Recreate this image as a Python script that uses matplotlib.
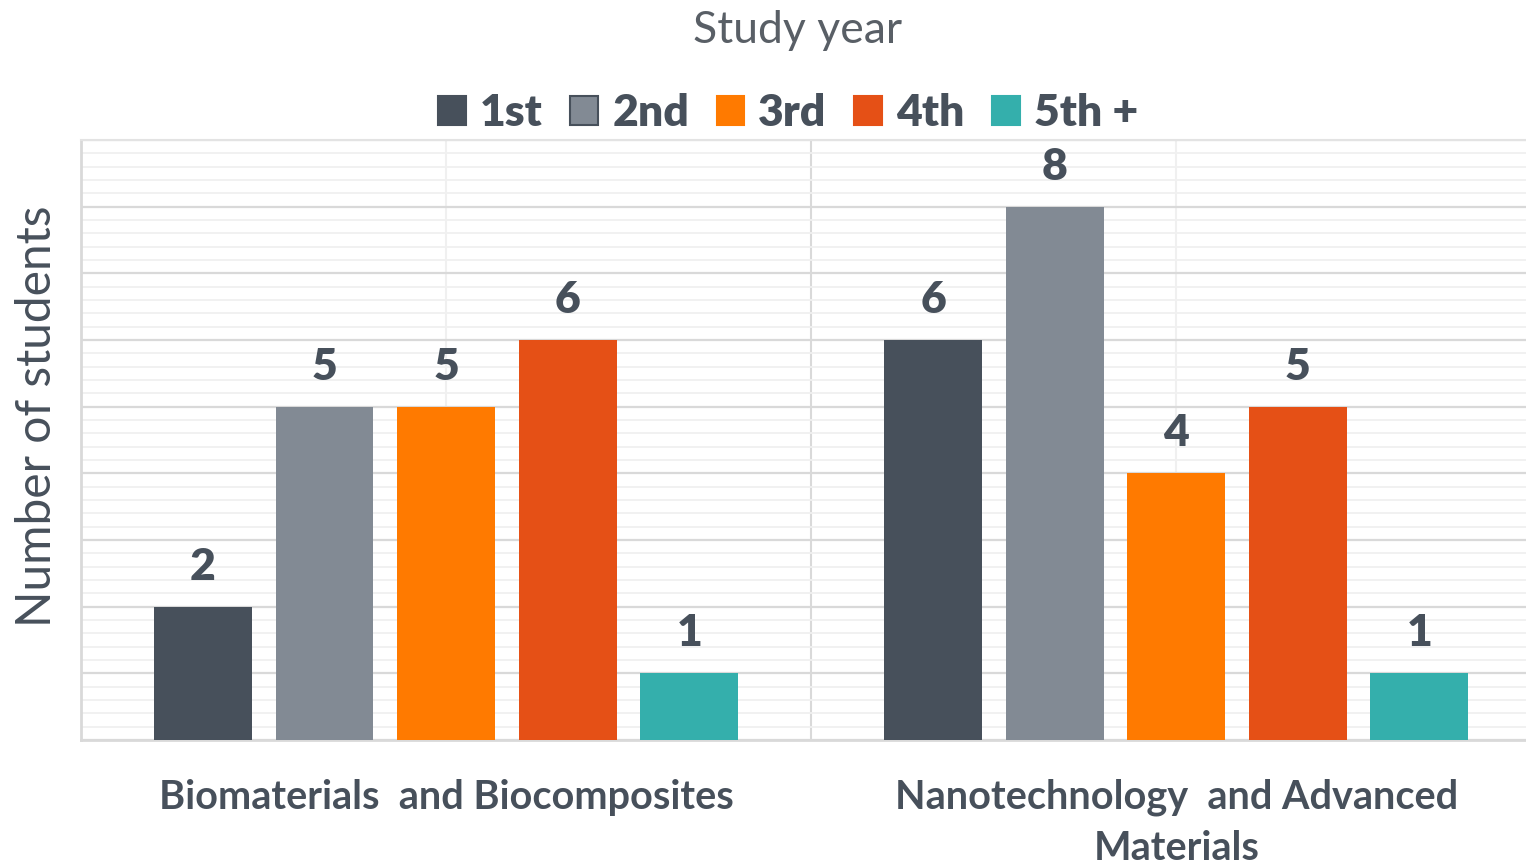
import matplotlib.pyplot as plt
import numpy as np
from matplotlib.patches import Patch
from matplotlib.ticker import MultipleLocator

programs = ['Biomaterials  and Biocomposites', 'Nanotechnology  and Advanced\nMaterials']
years = ['1st', '2nd', '3rd', '4th', '5th +']
counts = {
    '1st': [2, 6],
    '2nd': [5, 8],
    '3rd': [5, 4],
    '4th': [6, 5],
    '5th +': [1, 1],
}
colors = ['#47505b', '#828a94', '#ff7a00', '#e55016', '#34afac']

TEXT = '#47505b'
plt.rcParams['font.family'] = ['Lato', 'DejaVu Sans']

fig = plt.figure(figsize=(15.26, 8.64), dpi=100)
ax = fig.add_axes([0.0531, 0.1435, 0.9469, 0.6944])

x = np.arange(len(programs))
step = 0.1665
width = 0.134
for i, yr in enumerate(years):
    pos = x + (i - 2) * step
    bars = ax.bar(pos, counts[yr], width, color=colors[i], zorder=3)
    for b, v in zip(bars, counts[yr]):
        ax.text(b.get_x() + b.get_width() / 2, v + 0.3, str(v), ha='center', va='bottom',
                fontsize=32, fontweight='heavy', color=TEXT, zorder=4)

ax.set_ylim(0, 9)
ax.set_xlim(-0.5, 1.479)

# horizontal grid
ax.yaxis.set_major_locator(MultipleLocator(1))
ax.yaxis.set_minor_locator(MultipleLocator(0.2))
ax.grid(axis='y', which='major', color='#d9d9d9', lw=1.6, zorder=0)
ax.grid(axis='y', which='minor', color='#f0f0f0', lw=1.3, zorder=0)
ax.tick_params(axis='y', which='both', left=False, labelleft=False)

# vertical separators between and within categories
for b in x + 0.5:
    ax.axvline(b, color='#d9d9d9', lw=1.5, zorder=1)
for c in x:
    ax.axvline(c, color='#f0f0f0', lw=1.5, zorder=1)

ax.set_xticks(x)
ax.set_xticklabels(programs, fontsize=28.5, fontweight='bold', color=TEXT, linespacing=1.45,
                   va='top')
ax.tick_params(axis='x', length=0, pad=28)

for s in ['top', 'right']:
    ax.spines[s].set_visible(False)
for s in ['left', 'bottom']:
    ax.spines[s].set_color('#d9d9d9')
    ax.spines[s].set_linewidth(2)
ax.spines['top'].set_visible(True)
ax.spines['top'].set_color('#e3e3e3')
ax.spines['top'].set_linewidth(1.5)

fig.text(0.0245, 0.518, 'Number of students', rotation=90, ha='center', va='center',
         fontsize=34.5, color=TEXT)

handles = [Patch(facecolor=c, edgecolor=(TEXT if yr == '2nd' else c), lw=1.5)
           for yr, c in zip(years, colors)]
fig.legend(handles, years, loc='center', bbox_to_anchor=(0.5165, 0.869), ncol=5,
           frameon=False, handlelength=0.62, handleheight=0.62,
           handletextpad=0.32, columnspacing=0.62, prop={'weight': 'heavy', 'size': 32},
           labelcolor=TEXT)

fig.text(0.5225, 0.965, 'Study year', ha='center', va='center', fontsize=32,
         color='#595f66')

fig.savefig('out.png', dpi=100)
